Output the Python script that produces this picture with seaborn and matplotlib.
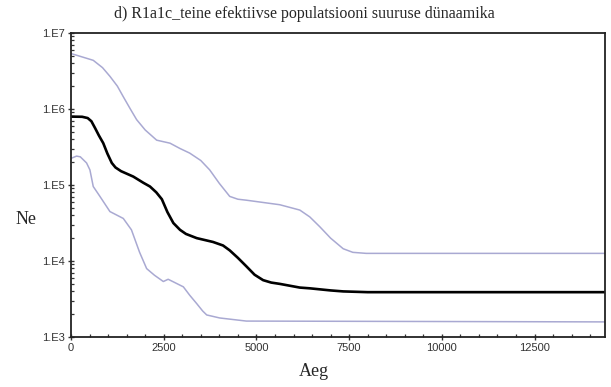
import numpy as np
import pandas as pd
import matplotlib
matplotlib.use("Agg")
import matplotlib.pyplot as plt
import seaborn as sns
from matplotlib.ticker import LogLocator, MultipleLocator, NullFormatter

# ---- data ----
median_years = [0, 300, 450, 550, 650, 750, 870, 980, 1100, 1200, 1350, 1680, 1950,
                2130, 2300, 2450, 2600, 2760, 2940, 3100, 3390, 3830, 4100, 4280, 4500,
                4730, 4950, 5180, 5400, 5630, 6170, 6440, 7000, 7340, 8000, 14400]
median_ne = [794000, 790000, 760000, 690000, 560000, 450000, 355000, 260000, 195000,
             170000, 152000, 129000, 107000, 95500, 80000, 65000, 44000, 31600, 25700,
             22700, 20000, 17800, 16000, 13800, 11000, 8500, 6600, 5600, 5200, 5000,
             4470, 4370, 4100, 3980, 3890, 3890]

upper_years = [0, 600, 850, 1050, 1250, 1410, 1600, 1770, 2000, 2310, 2670, 2940, 3200,
               3500, 3740, 4000, 4280, 4500, 4730, 5630, 6170, 6440, 6710, 7000, 7340,
               7600, 7960, 14400]
upper_ne = [5370000, 4370000, 3500000, 2690000, 2000000, 1450000, 1000000, 724000,
            530000, 389000, 355000, 302000, 263000, 210000, 158000, 105000, 70800,
            65000, 63100, 55000, 46800, 38000, 28200, 20000, 14500, 13000, 12600, 12600]

lower_years = [0, 150, 250, 420, 510, 600, 780, 1050, 1410, 1630, 1850, 2040, 2250,
               2490, 2620, 2800, 3030, 3200, 3390, 3550, 3660, 4010, 4730, 14400]
lower_ne = [224000, 240000, 235000, 195000, 158000, 95500, 70800, 44700, 36300, 25700,
            13000, 7940, 6500, 5370, 5750, 5200, 4570, 3550, 2750, 2200, 1950, 1780,
            1620, 1580]

x_ticks = [0, 2500, 5000, 7500, 10000, 12500]
y_ticks = [1e3, 1e4, 1e5, 1e6, 1e7]
y_tick_labels = ["1.E3", "1.E4", "1.E5", "1.E6", "1.E7"]

title = "d) R1a1c_teine efektiivse populatsiooni suuruse dünaamika"
xlabel = "Aeg"
ylabel = "Ne"

# ---- plot ----
sns.set_style("ticks")
plt.rcParams["font.family"] = ["Liberation Sans", "DejaVu Sans"]

fig = plt.figure(figsize=(6.11, 3.87), dpi=100)
ax = fig.add_axes([71 / 611, 1 - 337 / 387, (605 - 71) / 611, (337 - 33) / 387])

band_color = "#a9a9d2"
sns.lineplot(x=upper_years, y=upper_ne, ax=ax, color=band_color, lw=1.1,
             estimator=None, sort=False)
sns.lineplot(x=lower_years, y=lower_ne, ax=ax, color=band_color, lw=1.1,
             estimator=None, sort=False)
sns.lineplot(x=median_years, y=median_ne, ax=ax, color="black", lw=1.9,
             estimator=None, sort=False)

ax.set_yscale("log")
ax.set_ylim(1e3, 1e7)
ax.set_xlim(0, 14400)

ax.set_yticks(y_ticks)
ax.set_yticklabels(y_tick_labels)
ax.yaxis.set_minor_locator(LogLocator(base=10, subs=np.arange(2, 10)))
ax.yaxis.set_minor_formatter(NullFormatter())
ax.set_xticks(x_ticks)
ax.set_xticklabels([str(t) for t in x_ticks])
ax.xaxis.set_minor_locator(MultipleLocator(500))

ax.tick_params(axis="both", which="major", direction="inout", length=5, width=1.0,
               labelsize=8, labelcolor="#333333", color="#333333", pad=2)
ax.tick_params(axis="both", which="minor", direction="in", length=2.5, width=0.9,
               color="#333333")

for side in ["top", "right", "left", "bottom"]:
    ax.spines[side].set_visible(True)
    ax.spines[side].set_color("#222222")
    ax.spines[side].set_linewidth(1.3)

ax.set_xlabel("")
ax.set_ylabel("")
fig.text(26 / 611, 1 - 220 / 387, ylabel, ha="center", va="center",
         family="Liberation Serif", fontsize=13)
fig.text(314 / 611, 1 - 372 / 387, xlabel, ha="center", va="center",
         family="Liberation Serif", fontsize=13)
fig.text(304 / 611, 1 - 14 / 387, title, ha="center", va="center",
         family="Liberation Serif", fontsize=11.5)

fig.savefig("out.png", dpi=100)
